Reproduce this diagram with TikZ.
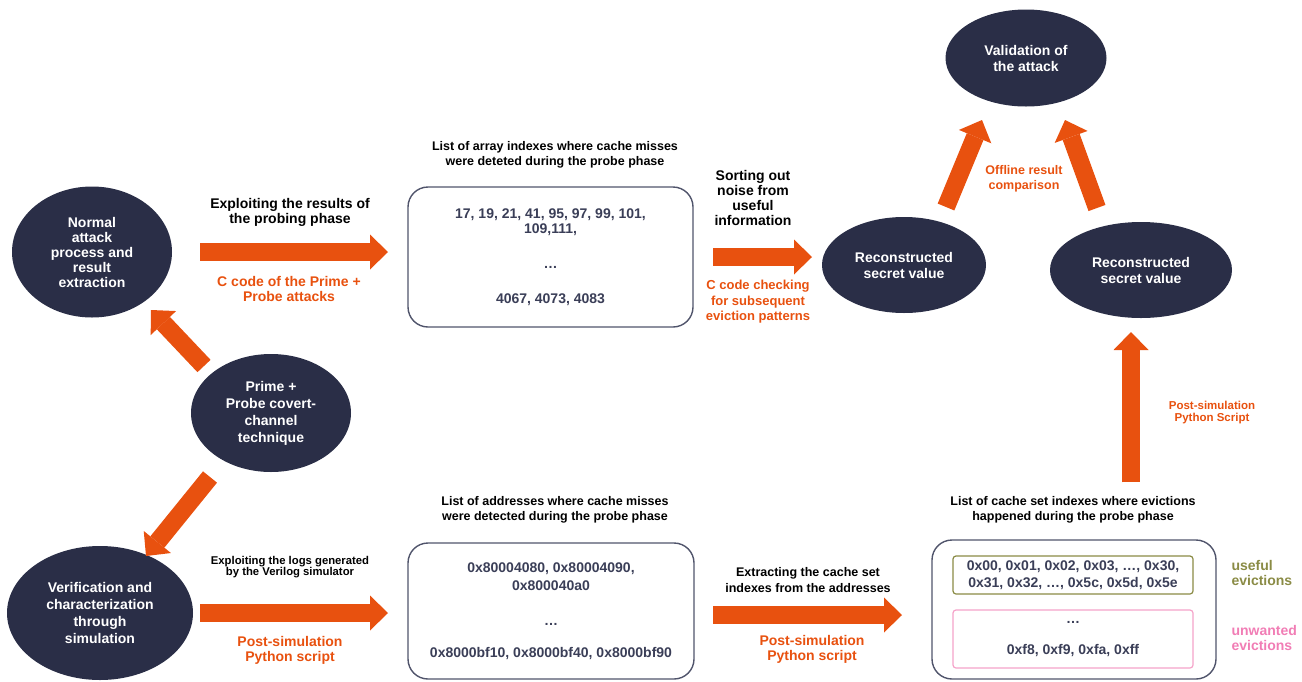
\documentclass[tikz,border=0pt]{standalone}
\usepackage{fontspec}
\setmainfont{Liberation Sans}
\usetikzlibrary{shapes.geometric,arrows.meta}
\definecolor{navy}{HTML}{2A2E47}
\definecolor{flame}{HTML}{E8510F}
\definecolor{boxtext}{HTML}{3A3E57}
\definecolor{boxline}{HTML}{50546B}
\definecolor{olivetone}{HTML}{8A8B45}
\definecolor{pinktext}{HTML}{F17DB5}
\definecolor{pinkline}{HTML}{F5A3C9}
\begin{document}
\begin{tikzpicture}[x=1pt,y=-1pt,
  stage/.style={ellipse, fill=navy, text=white, inner sep=0pt, align=center,
    font=\bfseries\fontsize{14}{15}\selectfont},
  listbox/.style={draw=boxline, line width=1.4pt, rounded corners=20pt, text=boxtext,
    align=center, inner sep=0pt, font=\bfseries\fontsize{14}{15}\selectfont},
  subbox/.style={line width=1.2pt, rounded corners=3pt, text=boxtext, align=center,
    inner sep=0pt, minimum width=240pt, font=\bfseries\fontsize{14}{17}\selectfont},
  caption/.style={align=center, text=black, font=\bfseries\fontsize{12.5}{15.5}\selectfont},
  note/.style={align=center, text=flame, font=\bfseries\fontsize{14}{15}\selectfont},
  flow/.style={draw=flame, line width=18pt,
    -{Triangle[length=18pt,width=35pt,line width=0pt]}},
]
\useasboundingbox (0,0) rectangle (1302,681);

% ---- process stages ----
\node[stage, minimum width=160pt, minimum height=131pt] (normal) at (92,252)
  {Normal\\attack\\process and\\result\\extraction};
\node[stage, minimum width=160pt, minimum height=118pt,
  font=\bfseries\fontsize{14}{17}\selectfont] (prime) at (271,413)
  {Prime +\\Probe covert-\\channel\\technique};
\node[stage, minimum width=186pt, minimum height=134pt,
  font=\bfseries\fontsize{14}{17}\selectfont] (verif) at (100,613)
  {Verification and\\characterization\\through\\simulation};
\node[stage, minimum width=164pt, minimum height=96pt,
  font=\bfseries\fontsize{14}{16}\selectfont] (reconL) at (904,265)
  {Reconstructed\\secret value};
\node[stage, minimum width=182pt, minimum height=96pt,
  font=\bfseries\fontsize{14}{16}\selectfont] (reconR) at (1141,270)
  {Reconstructed\\secret value};
\node[stage, minimum width=161pt, minimum height=97pt,
  font=\bfseries\fontsize{14}{16}\selectfont] (valid) at (1026,58)
  {Validation of\\the attack};

% ---- data lists ----
\node[caption] (arrTitle) at (555,155)
  {List of array indexes where cache misses\\were deteted during the probe phase};
\node[listbox, minimum width=285pt, minimum height=140pt] (topbox) at (550.5,257)
  {17, 19, 21, 41, 95, 97, 99, 101,\\109,111,\\[20pt]…\\[20pt]4067, 4073, 4083};

\node[caption] (addrTitle) at (555,510)
  {List of addresses where cache misses\\were detected during the probe phase};
\node[listbox, minimum width=286pt, minimum height=136pt,
  font=\bfseries\fontsize{14}{18}\selectfont] (addrbox) at (551,611)
  {0x80004080, 0x80004090,\\0x800040a0\\[17pt]…\\[14pt]0x8000bf10, 0x8000bf40, 0x8000bf90};

\node[caption] (evTitle) at (1073,510)
  {List of cache set indexes where evictions\\happened during the probe phase};
\node[listbox, minimum width=284pt, minimum height=139pt] (evict) at (1074,609.5) {};
\node[subbox, draw=olivetone, minimum height=38pt] (usefulbox) at (1073,575)
  {0x00, 0x01, 0x02, 0x03, …, 0x30,\\0x31, 0x32, …, 0x5c, 0x5d, 0x5e};
\node[subbox, draw=pinkline, minimum height=58pt] (unwantedbox) at (1073,639)
  {…\\[14pt]0xf8, 0xf9, 0xfa, 0xff};
\node[anchor=west, align=left, text=olivetone,
  font=\bfseries\fontsize{14}{14.5}\selectfont] (usefulLbl) at (1228,573)
  {useful\\evictions};
\node[anchor=west, align=left, text=pinktext,
  font=\bfseries\fontsize{14}{14.5}\selectfont] (unwantedLbl) at (1228,638)
  {unwanted\\evictions};

% ---- transitions ----
\draw[flow] ([shift={(-67,-47)}]prime.center) -- ([shift={(59,58)}]normal.center);
\draw[flow] ([shift={(-61,64)}]prime.center) -- ([shift={(46,-57)}]verif.center);
\draw[flow] ([shift={(108,0)}]normal.center) -- ([shift={(-162.5,-5)}]topbox.center);
\draw[flow] ([shift={(162.5,0)}]topbox.center) -- ([shift={(-92,-8)}]reconL.center);
\draw[flow] ([shift={(100,0)}]verif.center) -- ([shift={(-163,2)}]addrbox.center);
\draw[flow] ([shift={(162,4)}]addrbox.center) -- ([shift={(-172,5.5)}]evict.center);
\draw[flow] ([shift={(57,-57)}]evict.north) -- ([shift={(-10,62)}]reconR.center);
\draw[flow] ([shift={(42,-58)}]reconL.center) -- ([shift={(-44,62)}]valid.center);
\draw[flow] ([shift={(-44,-62)}]reconR.center) -- ([shift={(39,62)}]valid.center);

% ---- transition labels ----
\node[caption, font=\bfseries\fontsize{14}{15}\selectfont] (exploitLbl) at (290,212)
  {Exploiting the results of\\the probing phase};
\node[note] (ccodeLbl) at (289,289) {C code of the Prime +\\Probe attacks};
\node[caption, font=\bfseries\fontsize{14}{15}\selectfont] (sortLbl) at (753,198)
  {Sorting out\\noise from\\useful\\information};
\node[note, font=\bfseries\fontsize{13}{15.5}\selectfont] (checkLbl) at (758,302)
  {C code checking\\for subsequent\\eviction patterns};
\node[note, font=\bfseries\fontsize{12.5}{15.5}\selectfont] (offlineLbl) at (1024,179)
  {Offline result\\comparison};
\node[note, font=\bfseries\fontsize{11.5}{12}\selectfont] (postR) at (1212,413)
  {Post-simulation\\Python Script};
\node[caption, font=\bfseries\fontsize{11.3}{11.3}\selectfont] (logsLbl) at (290,567)
  {Exploiting the logs generated\\by the Verilog simulator};
\node[note] (postL) at (290,650) {Post-simulation\\Python script};
\node[caption] (extractLbl) at (808,580)
  {Extracting the cache set\\indexes from the addresses};
\node[note] (postM) at (812,649) {Post-simulation\\Python script};
\end{tikzpicture}
\end{document}
